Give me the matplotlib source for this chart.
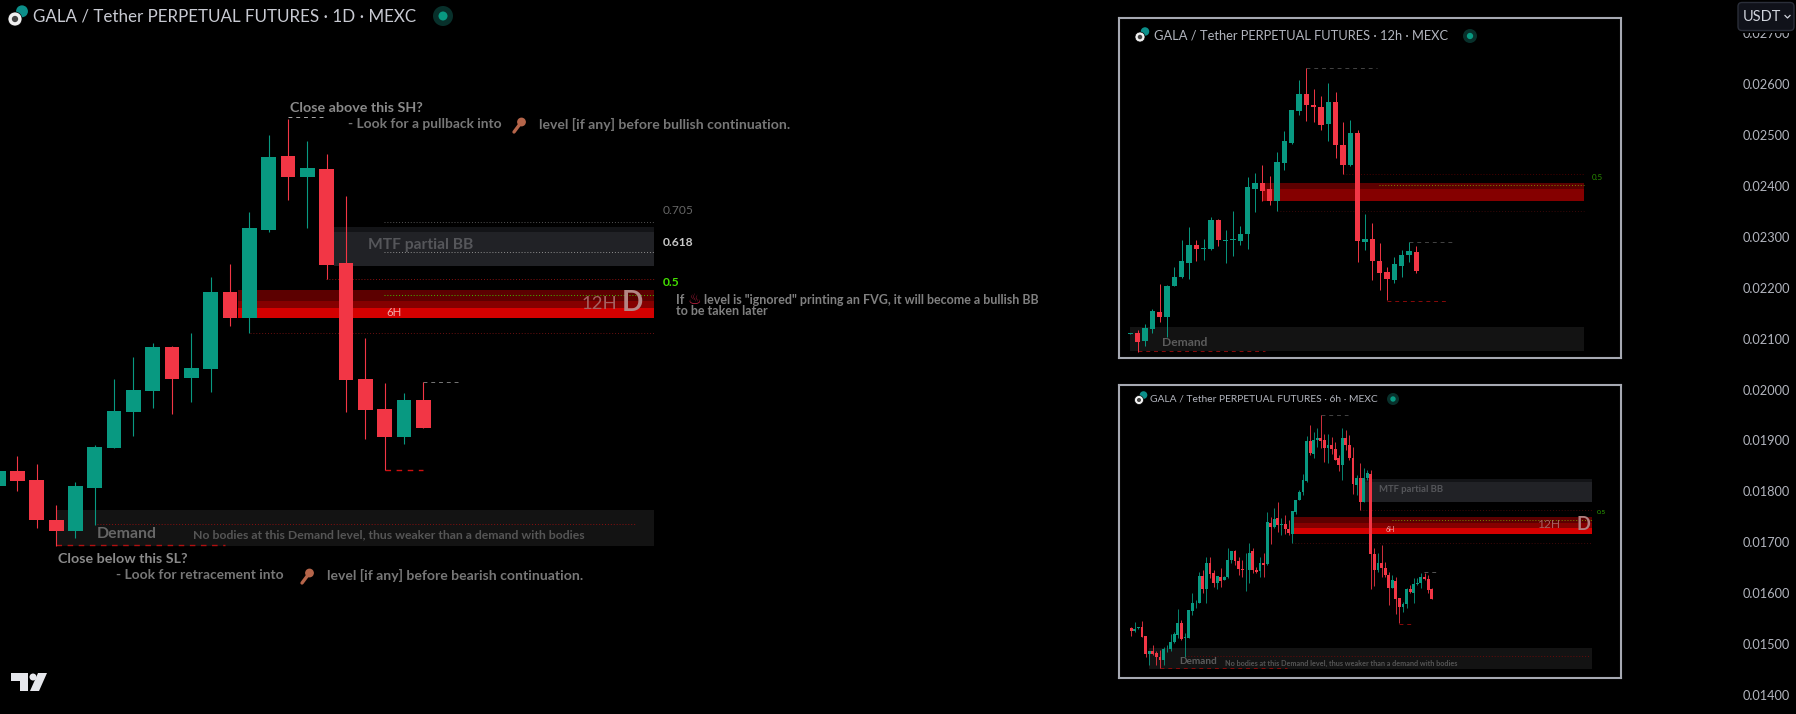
import matplotlib
matplotlib.use('Agg')
import matplotlib.pyplot as plt
import numpy as np
from matplotlib.patches import Circle, FancyBboxPatch, Polygon

W, H = 1796, 714
TEAL = '#089981'
RED = '#f23645'
FONT = 'Lato'

# price axis of the 1D pane
price_ticks = [0.014, 0.015, 0.016, 0.017, 0.018, 0.019, 0.020, 0.021,
               0.022, 0.023, 0.024, 0.025, 0.026, 0.027]

# 1D candles
d1_open = [0.018105, 0.018400, 0.018223, 0.017437, 0.017221, 0.018066, 0.018851, 0.019558,
           0.019971, 0.020835, 0.020226, 0.020403, 0.021915, 0.021404, 0.023133, 0.024586,
           0.024174, 0.024331, 0.022485, 0.020206, 0.019617, 0.019067, 0.019794]
d1_close = [0.018400, 0.018203, 0.017437, 0.017221, 0.018105, 0.018871, 0.019578, 0.019990,
            0.020835, 0.020206, 0.020422, 0.021915, 0.021404, 0.023172, 0.024567, 0.024174,
            0.024350, 0.022445, 0.020187, 0.019598, 0.019067, 0.019794, 0.019244]
d1_high = [0.018400, 0.018694, 0.018537, 0.017732, 0.018184, 0.018910, 0.020206, 0.020639,
           0.020913, 0.020855, 0.021110, 0.022210, 0.022465, 0.023486, 0.024999, 0.025313,
           0.024881, 0.024625, 0.023801, 0.021012, 0.020128, 0.019931, 0.020148]
d1_low = [0.018105, 0.018007, 0.017280, 0.016927, 0.017084, 0.017339, 0.018851, 0.019087,
          0.019637, 0.019519, 0.019755, 0.019951, 0.021247, 0.021110, 0.023094, 0.023722,
          0.023172, 0.022170, 0.019558, 0.019028, 0.018419, 0.018930, 0.019244]

# 12h candles, in 1e-5 USDT
h12_top = [1748, 1747, 1762, 1812, 1809, 1888, 1914, 1960, 2008, 2008, 1999, 2082, 2082, 2023,
           2025, 2041, 2180, 2191, 2191, 2173, 2254, 2316, 2408, 2455, 2455, 2423, 2417, 2433,
           2433, 2303, 2339, 2341, 2025, 2027, 1962, 1928, 1951, 1979, 1990, 1988]
h12_bot = [1746, 1722, 1724, 1759, 1795, 1795, 1886, 1912, 1955, 1997, 1997, 1995, 2023, 2021,
           2023, 2019, 2041, 2174, 2168, 2138, 2138, 2251, 2311, 2404, 2422, 2417, 2363, 2365,
           2303, 2245, 2244, 2021, 2018, 1961, 1925, 1908, 1906, 1946, 1978, 1931]
h12_high = [1748, 1756, 1773, 1819, 1892, 1890, 1944, 2023, 2062, 2023, 2025, 2092, 2085, 2053,
            2110, 2064, 2210, 2220, 2245, 2212, 2285, 2346, 2408, 2498, 2531, 2470, 2450, 2487,
            2460, 2372, 2378, 2349, 2100, 2072, 2013, 1944, 1972, 1993, 2016, 2006]
h12_low = [1746, 1692, 1709, 1747, 1780, 1737, 1886, 1909, 1907, 1960, 1964, 1993, 2005, 1954,
           1976, 2008, 1995, 2106, 2138, 2127, 2109, 2230, 2308, 2393, 2375, 2372, 2350, 2316,
           2265, 2218, 2242, 1959, 1993, 1905, 1875, 1845, 1895, 1912, 1958, 1925]
h12_up = [1, 0, 1, 1, 0, 1, 1, 1, 1, 0, 1, 1, 0, 1, 1, 1, 1, 1, 0, 0, 1, 1, 1, 1, 0, 0, 0, 1,
          0, 0, 1, 0, 1, 0, 0, 0, 1, 1, 1, 0]

# 6h candles, in 1e-5 USDT
h6_top = [1830, 1825, 1831, 1831, 1801, 1753, 1753, 1745, 1732, 1758, 1760, 1784, 1810, 1845, 1845,
          1799, 1887, 1912, 1913, 2000, 2000, 2045, 2045, 2009, 2000, 1998, 1998, 2055, 2083, 2083,
          2049, 2023, 2022, 2078, 2083, 2020, 2042, 2042, 2180, 2177, 2189, 2191, 2171, 2171, 2155,
          2215, 2253, 2277, 2317, 2446, 2446, 2451, 2457, 2457, 2451, 2433, 2433, 2419, 2389, 2455,
          2455, 2433, 2389, 2325, 2326, 2325, 2341, 2339, 2073, 2044, 2045, 2026, 2004, 1986, 1985,
          1927, 1908, 1956, 1956, 1974, 1976, 1998, 1998, 1990, 1956]
h6_bot = [1820, 1820, 1828, 1799, 1744, 1744, 1744, 1732, 1723, 1723, 1758, 1760, 1784, 1807, 1793,
          1795, 1797, 1886, 1911, 1913, 1957, 1957, 2006, 1976, 1976, 1985, 1989, 1998, 2052, 2051,
          2024, 2021, 2021, 2021, 2020, 2015, 2017, 2038, 2040, 2162, 2162, 2169, 2170, 2155, 2141,
          2140, 2211, 2252, 2277, 2314, 2406, 2404, 2451, 2448, 2424, 2424, 2419, 2385, 2367, 2368,
          2433, 2390, 2304, 2301, 2246, 2246, 2324, 2073, 2020, 2020, 2026, 2004, 1962, 1962, 1925,
          1897, 1897, 1908, 1949, 1946, 1974, 1976, 1991, 1955, 1925]
h6_high = [1831, 1850, 1831, 1853, 1802, 1754, 1773, 1754, 1756, 1767, 1773, 1808, 1817, 1891, 1855,
           1813, 1888, 1943, 1921, 2015, 2020, 2064, 2064, 2020, 2000, 2026, 2000, 2092, 2084, 2086,
           2064, 2053, 2075, 2110, 2092, 2031, 2064, 2075, 2213, 2196, 2224, 2246, 2191, 2202, 2185,
           2216, 2253, 2284, 2339, 2462, 2499, 2477, 2488, 2532, 2471, 2471, 2460, 2444, 2400, 2488,
           2482, 2466, 2427, 2334, 2374, 2356, 2350, 2350, 2092, 2075, 2103, 2048, 2015, 2004, 1998,
           1927, 1916, 1960, 1971, 1993, 1993, 2009, 2011, 2004, 1960]
h6_low = [1802, 1817, 1824, 1798, 1732, 1707, 1740, 1707, 1696, 1707, 1751, 1754, 1778, 1795, 1789,
          1734, 1795, 1872, 1894, 1910, 1943, 1910, 1993, 1965, 1956, 1965, 1987, 1993, 2044, 2037,
          2004, 1998, 1952, 1976, 2011, 2011, 1998, 1998, 2037, 2106, 2158, 2147, 2136, 2139, 2136,
          2111, 2207, 2251, 2268, 2312, 2400, 2392, 2427, 2422, 2378, 2374, 2405, 2383, 2348, 2317,
          2416, 2383, 2273, 2268, 2218, 2246, 2317, 1957, 1968, 2015, 1998, 1998, 1905, 1960, 1875,
          1844, 1883, 1894, 1943, 1913, 1971, 1960, 1987, 1943, 1924]
h6_up = [0, 1, 1, 0, 0, 1, 0, 0, 0, 1, 1, 1, 1, 1, 0, 1, 1, 1, 1, 1, 0, 1, 0, 0, 1, 0, 1, 1, 1, 0,
         0, 0, 1, 1, 0, 0, 1, 0, 1, 0, 1, 0, 1, 0, 0, 1, 1, 1, 1, 1, 0, 1, 1, 0, 0, 1, 0, 0, 0, 1,
         0, 0, 0, 1, 0, 1, 1, 0, 0, 1, 0, 0, 0, 1, 0, 0, 1, 1, 0, 1, 1, 1, 0, 0, 0]

NOTE_FIRST = '- Look for a pullback into'
NOTE_SECOND = '- Look for retracement into'
NOTE_LEVEL_UP = 'level [if any] before bullish continuation.'
NOTE_LEVEL_DN = 'level [if any] before bearish continuation.'
NOTE_DEMAND = 'No bodies at this Demand level, thus weaker than a demand with bodies'


def candles(ax, x, tops, bots, highs, lows, up, width, wick):
    colors = [TEAL if u else RED for u in up]
    ax.vlines(x, lows, highs, colors=colors, lw=wick, zorder=3)
    ax.bar(x, np.array(tops) - np.array(bots), bottom=bots, width=width, color=colors,
           linewidth=0, zorder=4)


def zone(ax, x0, x1, y0, y1, color):
    ax.fill_between([x0, x1], y0, y1, color=color, linewidth=0, zorder=1)


def level(ax, x0, x1, y, color, ls=(0, (1, 2)), lw=0.7):
    ax.plot([x0, x1], [y, y], color=color, ls=ls, lw=lw, zorder=2)


def pane(rect):
    x0, y0, x1, y1 = rect
    ax = fig.add_axes([x0 / W, 1 - y1 / H, (x1 - x0) / W, (y1 - y0) / H], facecolor='black')
    ax.set_xticks([])
    ax.set_yticks([])
    for s in ax.spines.values():
        s.set_color('#a6a9b2')
        s.set_linewidth(1.5)
    return ax


def label(x, y, s, size, color, weight='normal', **kw):
    # size is given in pixels
    ov.text(x, y, s, fontsize=size * 0.72, color=color, weight=weight, family=FONT,
            va='center', ha='left', **kw)


def symbol_icon(x, y, r):
    ov.add_patch(Circle((x + r * 1.0, y - r * 1.1), r * 0.85, fc='#0c8f8a', lw=0))
    ov.add_patch(Circle((x, y), r, fc='#f0f0f0', ec='black', lw=0.5))
    ov.add_patch(Circle((x, y), r * 0.45, fc='#444444', lw=0))


def status_dot(x, y, r):
    ov.add_patch(Circle((x, y), r, fc='#08302b', lw=0))
    ov.add_patch(Circle((x, y), r * 0.45, fc=TEAL, lw=0))


def key_icon(x, y):
    ov.plot([x - 5, x + 1], [y + 7, y - 1], color='#b5654a', lw=2.4, solid_capstyle='round')
    ov.add_patch(Circle((x + 2.5, y - 3), 4.4, fc='#b5654a', lw=0))


fig = plt.figure(figsize=(W / 100, H / 100), dpi=100, facecolor='black')

# main 1D pane, it takes the whole picture and holds the price scale
ax = fig.add_axes([0, 0, 1, 1], facecolor='black')
ax.set_xlim(-0.9, 92.01)
ax.set_ylim(0.013627, 0.02765)
for s in ax.spines.values():
    s.set_visible(False)
ax.set_xticks([])
ax.yaxis.tick_right()
ax.set_yticks(price_ticks)
ax.set_yticklabels(['%.5f' % p for p in price_ticks], family=FONT, fontsize=9.2,
                   color='#b2b5be', ha='right')
ax.tick_params(axis='y', length=0, pad=-4.3)

zone(ax, 16.38, 32.93, 0.023094, 0.023192, '#131417')
zone(ax, 16.38, 32.93, 0.022432, 0.023094, '#212226')
zone(ax, 11.41, 32.93, 0.021744, 0.021954, '#5c0000')
zone(ax, 11.41, 32.93, 0.021601, 0.021744, '#850000')
zone(ax, 11.41, 32.93, 0.021410, 0.021601, '#d40000')
zone(ax, 2.0, 32.93, 0.016932, 0.017634, '#131313')
level(ax, 18.97, 32.98, 0.023290, '#555555')
level(ax, 18.97, 32.98, 0.022701, '#8f8f8f')
level(ax, 15.96, 32.98, 0.022180, '#8a0f0f')
level(ax, 18.97, 32.98, 0.021866, '#3fc000')
level(ax, 12.03, 32.98, 0.021110, '#6a0f0f')
level(ax, 4.12, 32.0, 0.017353, '#8a0f0f')
level(ax, 14, 15.96, 0.025352, '#aaaaaa', (0, (4, 4)))
level(ax, 21, 22.95, 0.020148, '#777777', (0, (4, 4)))
level(ax, 19, 21, 0.018419, '#d01010', (0, (4, 4)), 1.0)
level(ax, 2, 10.74, 0.016940, '#b01010', (0, (4, 4)), 1.0)

x_d1 = np.arange(-1, len(d1_open) - 1)
candles(ax, x_d1, np.maximum(d1_open, d1_close), np.minimum(d1_open, d1_close), d1_high, d1_low,
        [c >= o for o, c in zip(d1_open, d1_close)], 0.77, 0.8)

# 12h pane
ax12 = pane((1119, 18, 1621, 358))
ax12.set_xlim(-2.54, 65.9)
ax12.set_ylim(1673.6, 2680.3)
zone(ax12, 16.93, 60.87, 2173, 2192.7, '#5c0000')
zone(ax12, 16.93, 60.87, 2138.5, 2173, '#850000')
zone(ax12, -1, 60.87, 1693.3, 1765.4, '#131313')
level(ax12, 28.05, 60.87, 2219, '#4a0000')
level(ax12, 18.97, 60.87, 2108.8, '#3a0808')
level(ax12, 32.96, 60.87, 2184.8, '#7a8a00')
level(ax12, 22.92, 32.6, 2533.3, '#444444', (0, (4, 4)))
level(ax12, 37.04, 43.03, 2016, '#444444', (0, (4, 4)))
level(ax12, 33.95, 42.03, 1841.4, '#8a0a0a', (0, (4, 4)))
level(ax12, 0, 17.39, 1693.3, '#8a0a0a', (0, (4, 4)))
candles(ax12, np.arange(-1, len(h12_top) - 1), h12_top, h12_bot, h12_high, h12_low, h12_up, 0.72, 0.7)

# 6h pane
ax6 = pane((1119, 385, 1621, 678))
ax6.set_xlim(-3.45, 136.96)
ax6.set_ylim(1663.6, 2631.6)
zone(ax6, 64.9, 128.8, 2310.4, 2320.3, '#131417')
zone(ax6, 64.9, 128.8, 2244.4, 2310.4, '#212226')
zone(ax6, 44.9, 128.8, 2176.2, 2196, '#5c0000')
zone(ax6, 44.9, 128.8, 2159.7, 2176.2, '#850000')
zone(ax6, 44.9, 128.8, 2139.9, 2159.7, '#d40000')
zone(ax6, 5, 128.8, 1692.2, 1762.6, '#131313')
level(ax6, 64, 128.8, 2220.2, '#400808')
level(ax6, 44.9, 128.8, 2108, '#400808')
level(ax6, 72.8, 128.8, 2187.2, '#7a8a00')
level(ax6, 15.1, 128.2, 1735.1, '#6a0a0a')
level(ax6, 8.1, 43.5, 1695.5, '#8a0a0a', (0, (4, 4)))
level(ax6, 53, 60.7, 2533.7, '#444444', (0, (4, 4)))
level(ax6, 81.8, 85.8, 2012.3, '#555555', (0, (4, 4)))
level(ax6, 75, 78.9, 1840.7, '#8a0a0a', (0, (4, 4)))
candles(ax6, np.arange(len(h6_top)), h6_top, h6_bot, h6_high, h6_low, h6_up, 0.8, 0.6)

# overlay in picture pixels for labels and icons
ov = fig.add_axes([0, 0, 1, 1], facecolor='none')
ov.set_xlim(0, W)
ov.set_ylim(H, 0)
ov.axis('off')

symbol_icon(15, 19, 7)
label(33, 17, 'GALA / Tether PERPETUAL FUTURES · 1D · MEXC', 17, '#c8cad2')
status_dot(443, 16, 10)
symbol_icon(1140, 37, 5)
label(1154, 36, 'GALA / Tether PERPETUAL FUTURES · 12h · MEXC', 12.9, '#b2b5be')
status_dot(1470, 36, 7)
symbol_icon(1139, 400, 4.5)
label(1150, 399, 'GALA / Tether PERPETUAL FUTURES · 6h · MEXC', 10.2, '#b2b5be')
status_dot(1393, 399, 6)

label(290, 108, 'Close above this SH?', 14.2, '#8a8a8a', 'bold')
label(348, 124, NOTE_FIRST, 13.7, '#777777', 'bold')
key_icon(519, 125)
label(539, 124, NOTE_LEVEL_UP, 14, '#777777', 'bold')
label(58, 559, 'Close below this SL?', 14.2, '#8a8a8a', 'bold')
label(116, 575, NOTE_SECOND, 13.7, '#777777', 'bold')
key_icon(307, 576)
label(327, 575, NOTE_LEVEL_DN, 14, '#777777', 'bold')

label(368, 245, 'MTF partial BB', 15.6, '#55565a', 'bold')
label(663, 211, '0.705', 12, '#666666')
label(663, 242, '0.618', 12, '#c8c8c8', 'bold')
label(663, 283, '0.5', 12, '#44e000', 'bold')
label(582, 304, '12H', 18.5, '#a56060')
label(622, 303, 'D', 28, '#b48585', 'bold')
label(386, 313, '6H', 11.5, '#eeaaaa')
label(97, 534, 'Demand', 15.9, '#666666', 'bold')
label(193, 535, NOTE_DEMAND, 12.3, '#555555', 'bold')
label(676, 300, 'If', 12.5, '#808080', 'bold')
ov.text(687, 299, '\u2668', fontsize=11, color='#c02040', family='DejaVu Sans', va='center')
label(704, 300, 'level is "ignored" printing an FVG, it will become a bullish BB', 12.5, '#808080', 'bold')
label(676, 311, 'to be taken later', 12.5, '#808080', 'bold')

label(1162, 343, 'Demand', 12, '#5c5c5c', 'bold')
label(1592, 177, '0.5', 8, '#2a9000')
label(1379, 490, 'MTF partial BB', 9.5, '#55565a', 'bold')
label(1597, 512, '0.5', 6.5, '#2faa00')
label(1538, 525, '12H', 12, '#a56060')
label(1577, 524, 'D', 18, '#b08080', 'bold')
label(1386, 530, '6H', 7, '#eeaaaa')
label(1179, 662, 'Demand', 10, '#5c5c5c', 'bold')
label(1225, 663, NOTE_DEMAND, 7.3, '#555555', 'bold')

# currency button
ov.add_patch(plt.Rectangle((1736, 0), 60, 33, fc='black', lw=0))
ov.add_patch(FancyBboxPatch((1738, 2.5), 56, 28, boxstyle='round,pad=0,rounding_size=4',
                            fc='#10121a', ec='#2a2e39', lw=1.0))
label(1743, 17, 'USDT', 14.5, '#d1d4dc')
ov.plot([1785, 1787.5, 1790], [15.5, 18, 15.5], color='#d1d4dc', lw=0.9)

# TradingView mark
logo = '#e6e7ec'
ov.add_patch(Polygon([(11, 673), (28, 673), (28, 691), (20, 691), (20, 681), (11, 681)], fc=logo, lw=0))
ov.add_patch(Circle((33, 677), 3.5, fc=logo, lw=0))
ov.add_patch(Polygon([(38, 673), (47, 673), (39, 691), (30, 691)], fc=logo, lw=0))

fig.savefig('out.png', dpi=100, facecolor='black')
